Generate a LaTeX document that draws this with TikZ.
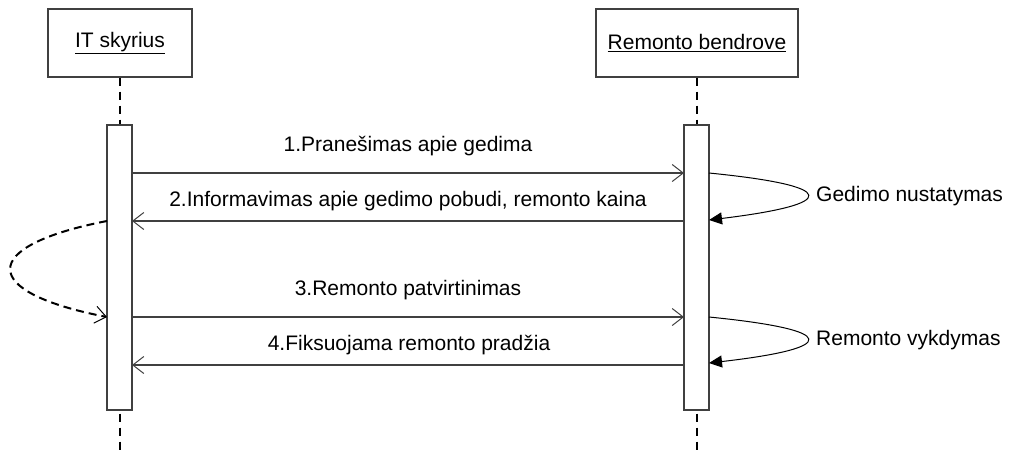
\documentclass[tikz,border=0pt]{standalone}
\usepackage{fontspec}
\setmainfont{Liberation Sans}
\usetikzlibrary{arrows.meta}
\definecolor{edge}{HTML}{404040}
\begin{document}
\begin{tikzpicture}[x=1pt,y=-1pt,
  lane/.style={draw=edge,line width=1.1pt,minimum height=68pt,inner sep=0pt,font=\fontsize{21}{24}\selectfont},
  actbar/.style={draw=edge,fill=white,line width=1.1pt},
  life/.style={line width=2pt,dash pattern=on 8pt off 6pt},
  msg/.style={draw=edge,line width=1.1pt,-{Straight Barb[length=11pt,width=17pt,line width=1pt]}},
  selfmsg/.style={line width=1pt,-{Triangle[length=13pt,width=12pt]}},
  txt/.style={font=\fontsize{21}{24}\selectfont,inner sep=0pt}]
\useasboundingbox (0,0) rectangle (1011,451);
% lifeline headers
\node[lane,minimum width=144pt] (it) at (120,43) {\underline{IT skyrius}};
\node[lane,minimum width=202pt] (rb) at (697,43) {\underline{Remonto bendrove}};
% lifelines
\coordinate (itend) at (120,451);
\coordinate (rbend) at (697,451);
\draw[life] (it.south) -- (itend);
\draw[life] (rb.south) -- (rbend);
% activation bars
\draw[actbar] (107,125) rectangle (132,410);
\draw[actbar] (684,125) rectangle (709,410);
\coordinate (a1) at (132,173);  \coordinate (b1) at (684,173);
\coordinate (a2) at (132,221);  \coordinate (b2) at (684,221);
\coordinate (a3) at (132,317);  \coordinate (b3) at (684,317);
\coordinate (a4) at (132,365);  \coordinate (b4) at (684,365);
\coordinate (l2) at (107,221);  \coordinate (l3) at (107,317);
\coordinate (r1) at (709,173);  \coordinate (r2) at (709,220);
\coordinate (r3) at (709,317);  \coordinate (r4) at (709,363);
% messages
\draw[msg] (a1) -- (b1);
\draw[msg] (b2) -- (a2);
\draw[msg] (a3) -- (b3);
\draw[msg] (b4) -- (a4);
\node[txt] (m1) at (408,146) {1.Pranešimas apie gedima};
\node[txt] (m2) at (408,201) {2.Informavimas apie gedimo pobudi, remonto kaina};
\node[txt] (m3) at (408,290) {3.Remonto patvirtinimas};
\node[txt] (m4) at (409,345) {4.Fiksuojama remonto pradžia};
% self calls
\draw[selfmsg] (r1) .. controls (840,186) and (840,204) .. (r2);
\draw[selfmsg] (r3) .. controls (840,330) and (840,348) .. (r4);
\node[txt,anchor=west] (s1) at (816,196) {Gedimo nustatymas};
\node[txt,anchor=west] (s2) at (816,340) {Remonto vykdymas};
% waiting loop
\draw[line width=2pt,dash pattern=on 8pt off 5pt,
  -{Straight Barb[length=11pt,width=17pt,line width=1pt]}]
  (l2) .. controls (-22,246) and (-22,292) .. (l3);
\end{tikzpicture}
\end{document}
